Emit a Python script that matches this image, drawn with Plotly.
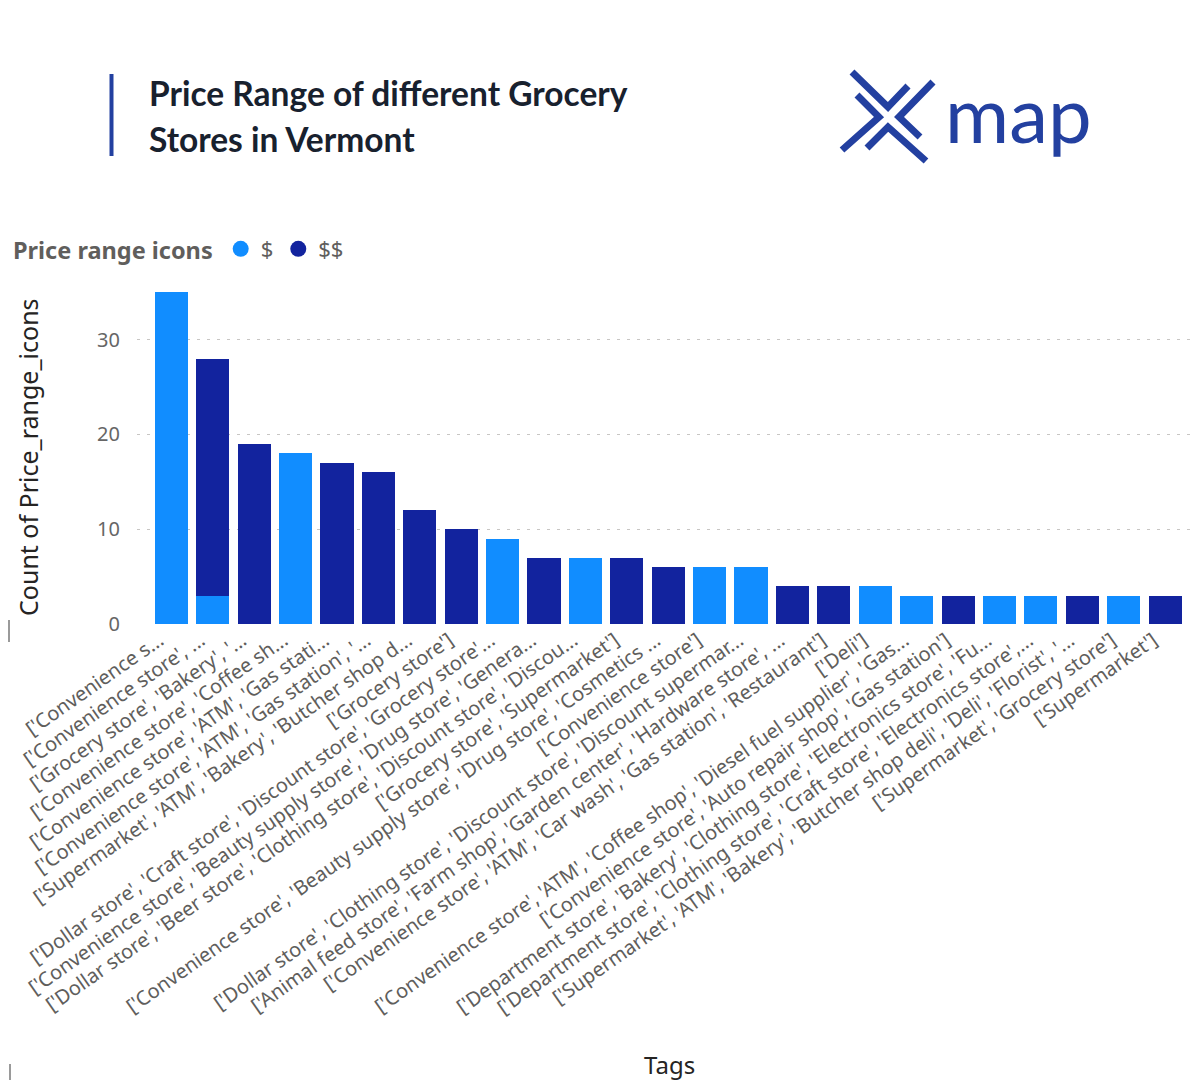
import plotly.graph_objects as go

# ---------------- data ----------------
tags = [
    "['Convenience s...",
    "['Convenience store', ...",
    "['Grocery store', 'Bakery', '...",
    "['Convenience store', 'Coffee sh...",
    "['Convenience store', 'ATM', 'Gas stati...",
    "['Convenience store', 'ATM', 'Gas station', '...",
    "['Supermarket', 'ATM', 'Bakery', 'Butcher shop d...",
    "['Grocery store']",
    "['Dollar store', 'Craft store', 'Discount store', 'Grocery store'...",
    "['Convenience store', 'Beauty supply store', 'Drug store', 'Genera...",
    "['Dollar store', 'Beer store', 'Clothing store', 'Discount store', 'Discou...",
    "['Grocery store', 'Supermarket']",
    "['Convenience store', 'Beauty supply store', 'Drug store', 'Cosmetics ...",
    "['Convenience store']",
    "['Dollar store', 'Clothing store', 'Discount store', 'Discount supermar...",
    "['Animal feed store', 'Farm shop', 'Garden center', 'Hardware store', ...",
    "['Convenience store', 'ATM', 'Car wash', 'Gas station', 'Restaurant']",
    "['Deli']",
    "['Convenience store', 'ATM', 'Coffee shop', 'Diesel fuel supplier', 'Gas...",
    "['Convenience store', 'Auto repair shop', 'Gas station']",
    "['Department store', 'Bakery', 'Clothing store', 'Electronics store', 'Fu...",
    "['Department store', 'Clothing store', 'Craft store', 'Electronics store',...",
    "['Supermarket', 'ATM', 'Bakery', 'Butcher shop deli', 'Deli', 'Florist', '...",
    "['Supermarket', 'Grocery store']",
    "['Supermarket']",
]
price_one = [35, 3, 0, 18, 0, 0, 0, 0, 9, 0, 7, 0, 0, 6, 6, 0, 0, 4, 3, 0, 3, 3, 0, 3, 0]
price_two = [0, 25, 19, 0, 17, 16, 12, 10, 0, 7, 0, 7, 6, 0, 0, 4, 4, 0, 0, 3, 0, 0, 3, 0, 3]
series_names = ["$", "$$"]
y_ticks = [0, 10, 20, 30]

# ---------------- styling ----------------
W, H = 1200, 1080
LIGHT = "#118DFF"
DARK = "#12239E"
BRAND = "#2340A0"
TICK_GREY = "#605E5C"


def px(x):
    return x / W


def py(y):
    return 1 - y / H


fig = go.Figure()
for name, vals, col in [(series_names[0], price_one, LIGHT), (series_names[1], price_two, DARK)]:
    fig.add_trace(go.Bar(x=tags, y=vals, name=name, marker=dict(color=col, line=dict(width=0)),
                         showlegend=False))
# legend entries with circle symbols
for name, col in [(series_names[0], LIGHT), (series_names[1], DARK)]:
    fig.add_trace(go.Scatter(x=[None], y=[None], mode="markers", name=name,
                             marker=dict(color=col, size=18, symbol="circle")))

shapes = [
    # accent bar next to title
    dict(type="line", xref="paper", yref="paper", x0=px(111.5), x1=px(111.5), y0=py(74), y1=py(156),
         line=dict(color=BRAND, width=4)),
    # small left-edge marks
    dict(type="line", xref="paper", yref="paper", x0=px(9), x1=px(9), y0=py(620), y1=py(642),
         line=dict(color="#9a9a9a", width=2)),
    dict(type="line", xref="paper", yref="paper", x0=px(10), x1=px(10), y0=py(1064), y1=py(1080),
         line=dict(color="#9a9a9a", width=2)),
]
# logo "X" made of four chevrons
chevrons = [
    [(852, 72), (888, 107), (908, 86)],
    [(933, 82), (899, 117), (920, 137)],
    [(867, 148), (888, 127), (926, 161)],
    [(857, 95), (879, 117), (842, 150)],
]
for ch in chevrons:
    path = "M {} {} L {} {} L {} {}".format(px(ch[0][0]), py(ch[0][1]), px(ch[1][0]), py(ch[1][1]),
                                           px(ch[2][0]), py(ch[2][1]))
    shapes.append(dict(type="path", xref="paper", yref="paper", path=path,
                       line=dict(color=BRAND, width=7)))

annotations = [
    dict(text="Price Range of different Grocery", x=px(147), y=py(93), xref="paper", yref="paper",
         xanchor="left", yanchor="middle", showarrow=False,
         font=dict(family="Lato", size=33.5, color="#18212E", weight="bold")),
    dict(text="Stores in Vermont", x=px(147), y=py(139), xref="paper", yref="paper",
         xanchor="left", yanchor="middle", showarrow=False,
         font=dict(family="Lato", size=33.5, color="#18212E", weight="bold")),
    dict(text="map", x=px(1018), y=py(113), xref="paper", yref="paper",
         xanchor="center", yanchor="middle", showarrow=False,
         font=dict(family="Lato", size=78, color=BRAND)),
    dict(text="Count of Price_range_icons", x=px(28), y=py(457), xref="paper", yref="paper",
         xanchor="center", yanchor="middle", showarrow=False, textangle=-90,
         font=dict(family="Noto Sans", size=25, color="#252423")),
    dict(text="Tags", x=px(669), y=py(1064), xref="paper", yref="paper",
         xanchor="center", yanchor="middle", showarrow=False,
         font=dict(family="Noto Sans", size=24, color="#252423")),
]

fig.update_layout(
    width=W, height=H,
    margin=dict(l=0, r=0, t=0, b=0),
    paper_bgcolor="white", plot_bgcolor="white",
    barmode="stack", bargap=0.2,
    shapes=shapes, annotations=annotations,
    showlegend=True,
    legend=dict(orientation="h", x=px(11), y=py(249), xanchor="left", yanchor="middle",
                traceorder="normal",
                title=dict(text="Price range icons",
                           font=dict(family="Noto Sans", size=23.5, color=TICK_GREY, weight="bold")),
                font=dict(family="Noto Sans", size=22, color=TICK_GREY),
                itemwidth=30, tracegroupgap=0),
    xaxis=dict(domain=[px(137), px(1192)], range=[-0.83, 24.65], type="category",
               tickangle=-35, tickfont=dict(family="Noto Sans", size=20, color=TICK_GREY),
               ticklabelshift=-12,
               showgrid=False, showline=False, ticks="", automargin=False, fixedrange=True),
    yaxis=dict(domain=[py(624), py(277)], range=[0, 36.6], tickvals=y_ticks,
               showgrid=True, gridcolor="#C8C6C4", griddash="3px,7px", gridwidth=1,
               zeroline=False, showline=False, ticks="", ticklabelstandoff=16,
               tickfont=dict(family="Noto Sans", size=20, color="#666666"),
               automargin=False, fixedrange=True),
)

fig.write_html("out.html", config={"displayModeBar": False},
               post_script="document.body.style.margin='0px';")
